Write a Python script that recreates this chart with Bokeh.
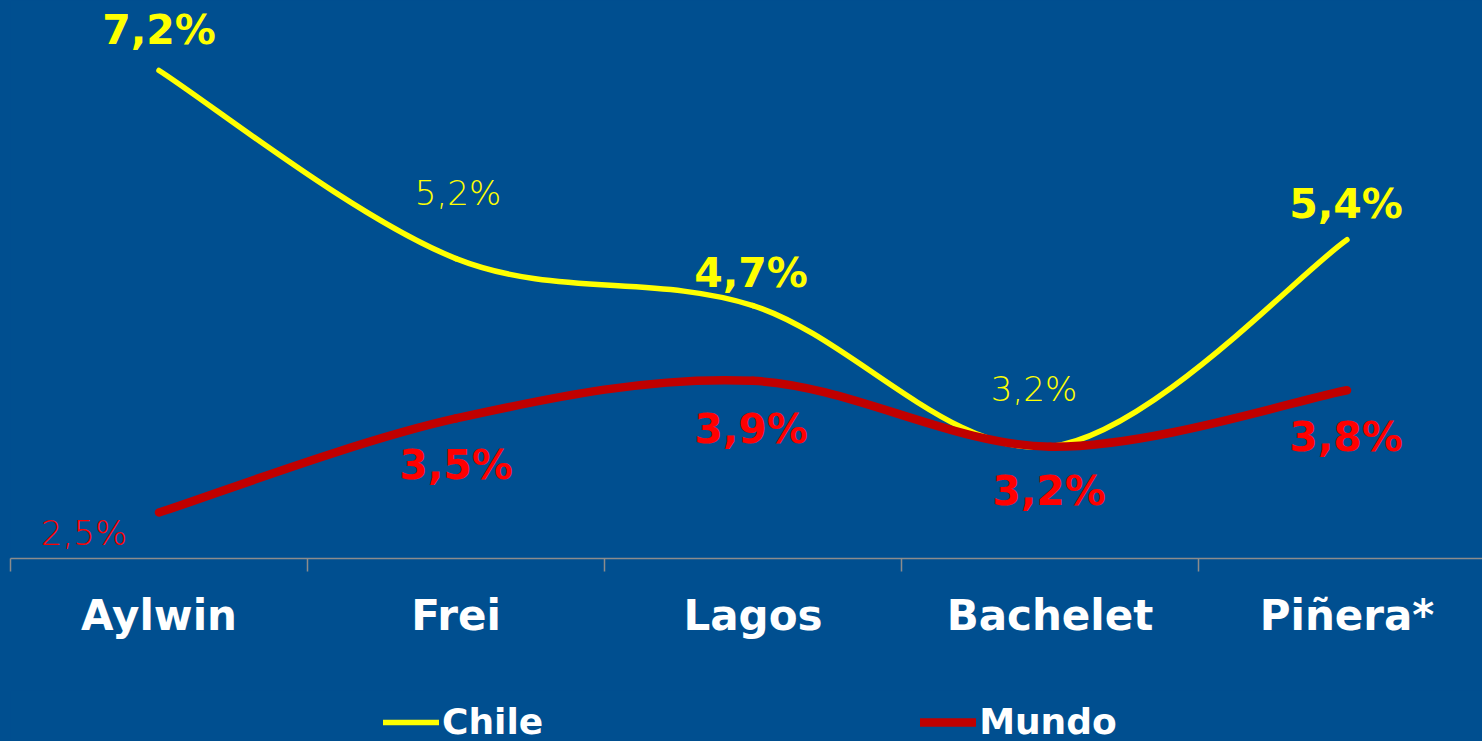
import numpy as np
from bokeh.plotting import figure
from bokeh.layouts import column
from bokeh.models import Range1d, FixedTicker, ColumnDataSource, Legend, LegendItem
from bokeh.core.properties import value
from bokeh.embed import file_html
from bokeh.resources import INLINE

# ---- data ----
categories = ["Aylwin", "Frei", "Lagos", "Bachelet", "Piñera*"]
chile = [7.2, 5.2, 4.7, 3.2, 5.4]
mundo = [2.5, 3.5, 3.9, 3.2, 3.8]
chile_labels = ["7,2%", "5,2%", "4,7%", "3,2%", "5,4%"]
mundo_labels = ["2,5%", "3,5%", "3,9%", "3,2%", "3,8%"]
series_names = ["Chile", "Mundo"]

# ---- styles ----
BG = "#004F90"
YELLOW = "#FFFF00"
RED_LINE = "#C00000"
RED_TXT = "#FF0000"
AXIS_GRAY = "#8C8C8C"
chile_bold = [True, False, True, False, True]
mundo_bold = [False, True, True, True, True]
chile_dx = [0, 2, -2, -16, -1]
chile_dy = [-40, -66, -33, -58, -36]
mundo_dx = [-75, 0, -2, -1, -1]
mundo_dy = [20, 47, 48, 44, 47]

xs = [i + 0.5 for i in range(len(categories))]
XR = (0, 1472 / 297)
bg_style = {"background-color": BG}

p = figure(width=1482, height=690, output_backend="svg", toolbar_location=None,
           x_range=Range1d(*XR), y_range=Range1d(2.011, 7.944),
           y_axis_location=None, styles=bg_style,
           background_fill_color=BG, border_fill_color=BG, outline_line_color=None,
           min_border_left=10, min_border_right=0, min_border_top=0, min_border_bottom=132)
p.grid.visible = False

ax = p.xaxis[0]
ax.ticker = FixedTicker(ticks=xs, minor_ticks=list(range(len(categories) + 1)))
ax.major_label_overrides = {x: c for x, c in zip(xs, categories)}
ax.axis_line_color = AXIS_GRAY
ax.axis_line_width = 1.5
ax.major_tick_line_color = None
ax.major_tick_in = 0
ax.major_tick_out = 0
ax.minor_tick_line_color = AXIS_GRAY
ax.minor_tick_line_width = 1.5
ax.minor_tick_in = 0
ax.minor_tick_out = 13
ax.major_label_text_font = "DejaVu Sans"
ax.major_label_text_font_style = "bold"
ax.major_label_text_font_size = "42px"
ax.major_label_text_color = "white"
ax.major_label_standoff = 19


def smooth_segments(xv, yv):
    n = len(xv)
    out = dict(x0=[], y0=[], x1=[], y1=[], cx0=[], cy0=[], cx1=[], cy1=[])
    for i in range(n - 1):
        im = max(i - 1, 0)
        i2 = min(i + 2, n - 1)
        out["x0"].append(xv[i]); out["y0"].append(yv[i])
        out["x1"].append(xv[i + 1]); out["y1"].append(yv[i + 1])
        out["cx0"].append(xv[i] + (xv[i + 1] - xv[im]) / 6)
        out["cy0"].append(yv[i] + (yv[i + 1] - yv[im]) / 6)
        out["cx1"].append(xv[i + 1] - (xv[i2] - xv[i]) / 6)
        out["cy1"].append(yv[i + 1] - (yv[i2] - yv[i]) / 6)
    return ColumnDataSource(out)


src_chile = smooth_segments(xs, chile)
src_mundo = smooth_segments(xs, mundo)
chile_style = dict(line_color=YELLOW, line_width=5.5, line_cap="round")
mundo_style = dict(line_color=RED_LINE, line_width=8.5, line_cap="round")
bez = dict(x0="x0", y0="y0", x1="x1", y1="y1", cx0="cx0", cy0="cy0", cx1="cx1", cy1="cy1")

p.bezier(source=src_chile, **bez, **chile_style)
p.bezier(source=src_mundo, **bez, **mundo_style)


def add_labels(vals, labels, bold_flags, dx, dy, color):
    for want_bold in (True, False):
        idx = [i for i, b in enumerate(bold_flags) if b == want_bold]
        if not idx:
            continue
        src = ColumnDataSource(dict(
            x=[xs[i] for i in idx], y=[vals[i] for i in idx],
            text=[labels[i] for i in idx],
            dx=[dx[i] for i in idx], dy=[dy[i] for i in idx]))
        if want_bold:
            p.text(x="x", y="y", text="text", x_offset="dx", y_offset="dy", source=src,
                   text_color=color, text_font=value("DejaVu Sans"), text_font_style="bold",
                   text_font_size="41px", text_align="center", text_baseline="middle")
        else:
            p.text(x="x", y="y", text="text", x_offset="dx", y_offset="dy", source=src,
                   text_color=color, text_font=value("DejaVu Sans Light"),
                   text_font_size="34px", text_align="center", text_baseline="middle")


add_labels(chile, chile_labels, chile_bold, chile_dx, chile_dy, YELLOW)
add_labels(mundo, mundo_labels, mundo_bold, mundo_dx, mundo_dy, RED_TXT)

# ---- legend strip (same series, drawn off-range so only the legend shows) ----
p2 = figure(width=1482, height=51, output_backend="svg", toolbar_location=None,
            x_range=Range1d(*XR), y_range=Range1d(100, 101),
            x_axis_location=None, y_axis_location=None, styles=bg_style,
            background_fill_color=BG, border_fill_color=BG, outline_line_color=None,
            min_border=0)
p2.grid.visible = False
lc = p2.bezier(source=src_chile, **bez, **chile_style)
lm = p2.bezier(source=src_mundo, **bez, **mundo_style)

legend = Legend(items=[LegendItem(label=series_names[0], renderers=[lc]),
                       LegendItem(label=series_names[1], renderers=[lm])],
                orientation="horizontal", location=(373, -1),
                background_fill_alpha=0, border_line_color=None,
                label_text_color="white", label_text_font="DejaVu Sans",
                label_text_font_style="bold", label_text_font_size="36px",
                glyph_width=56, glyph_height=40, label_height=40,
                label_standoff=3, spacing=377, padding=0, margin=0)
p2.add_layout(legend, "center")

layout = column(p, p2, spacing=0, styles=bg_style)
html = file_html(layout, INLINE)
html = html.replace("</head>", "<style>html, body { background-color: %s; }</style></head>" % BG, 1)
open("out.html", "w").write(html)
